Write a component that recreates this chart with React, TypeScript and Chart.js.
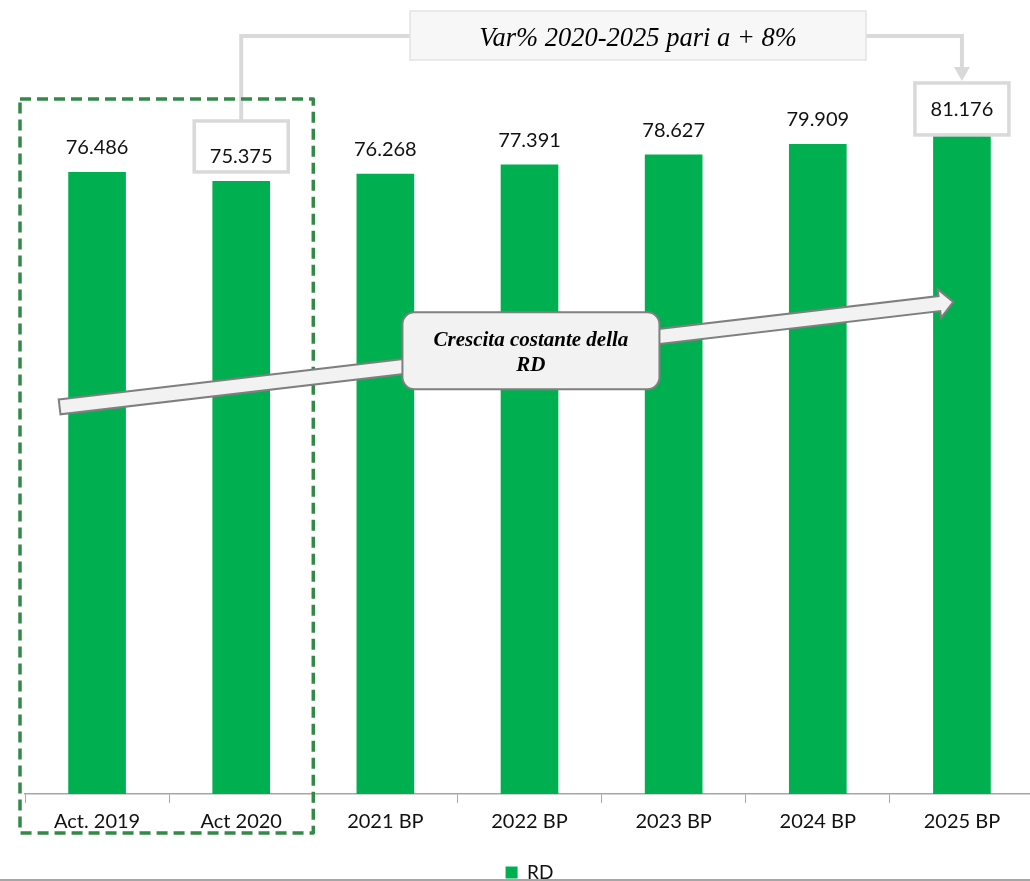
import React, { useEffect, useRef } from "react";
import { Chart, registerables } from "chart.js";

Chart.register(...registerables);

// ---- data ----
const categories = ["Act. 2019", "Act 2020", "2021 BP", "2022 BP", "2023 BP", "2024 BP", "2025 BP"];
const rdValues = [76486, 75375, 76268, 77391, 78627, 79909, 81176];
const seriesName = "RD";
const yAxisMax = 90000;
const topCalloutText = "Var% 2020-2025 pari a + 8%";
const arrowCalloutLines = ["Crescita costante della", "RD"];
// highlighted labels: [category index, box top value, box bottom value]
const highlightA = [1, 82750, 76480];
const highlightB = [6, 87420, 81030];
// trend arrow in scale units: [x index, value]
const trendStart = [-0.26, 47600];
const trendEnd = [5.94, 60500];
const trendCallout = [3.01, 54500];

const CANVAS_W = 1034;
const CANVAS_H = 892;
const LABEL_FONT = "Lato, 'Open Sans', sans-serif";
const SERIF = "'Liberation Serif', 'Times New Roman', serif";

function fmtIt(v: number): string {
  const s = Math.round(v).toString();
  return s.replace(/\B(?=(\d{3})+(?!\d))/g, ".");
}

function roundRect(ctx: CanvasRenderingContext2D, x: number, y: number, w: number, h: number, r: number) {
  ctx.beginPath();
  ctx.moveTo(x + r, y);
  ctx.lineTo(x + w - r, y);
  ctx.arcTo(x + w, y, x + w, y + r, r);
  ctx.lineTo(x + w, y + h - r);
  ctx.arcTo(x + w, y + h, x + w - r, y + h, r);
  ctx.lineTo(x + r, y + h);
  ctx.arcTo(x, y + h, x, y + h - r, r);
  ctx.lineTo(x, y + r);
  ctx.arcTo(x, y, x + r, y, r);
  ctx.closePath();
}

const annotationPlugin = {
  id: "annotations",
  afterDraw(chart: any) {
    const { ctx, chartArea, scales } = chart;
    const xs = scales.x;
    const ys = scales.y;
    const px = (v: number) => xs.getPixelForValue(v);
    const py = (v: number) => ys.getPixelForValue(v);
    const meta = chart.getDatasetMeta(0);
    ctx.save();

    // highlight boxes
    const drawHighlight = (h: number[]) => {
      const cx = px(h[0]);
      const top = py(h[1]);
      const bot = py(h[2]);
      ctx.fillStyle = "#ffffff";
      ctx.fillRect(cx - 47, top, 94, bot - top);
      ctx.strokeStyle = "#d9d9d9";
      ctx.lineWidth = 3.5;
      ctx.strokeRect(cx - 47, top, 94, bot - top);
    };
    drawHighlight(highlightA);
    drawHighlight(highlightB);

    // value labels
    ctx.fillStyle = "#111";
    ctx.font = `20px ${LABEL_FONT}`;
    ctx.textAlign = "center";
    ctx.textBaseline = "alphabetic";
    meta.data.forEach((bar: any, i: number) => {
      ctx.fillText(fmtIt(rdValues[i]), bar.x, bar.y - 18);
    });

    // top callout
    const boxL = 410, boxR = 866, boxT = 11, boxB = 60;
    const midY = (boxT + boxB) / 2 + 0.5;
    ctx.strokeStyle = "#d9d9d9";
    ctx.lineWidth = 4;
    ctx.lineJoin = "miter";
    // left connector
    const ax = px(highlightA[0]);
    ctx.beginPath();
    ctx.moveTo(boxL, midY);
    ctx.lineTo(ax, midY);
    ctx.lineTo(ax, py(highlightA[1]) - 1);
    ctx.stroke();
    // right connector with arrow
    const bx = px(highlightB[0]);
    const tipY = py(highlightB[1]) - 2;
    ctx.beginPath();
    ctx.moveTo(boxR, midY);
    ctx.lineTo(bx, midY);
    ctx.lineTo(bx, tipY - 12);
    ctx.stroke();
    ctx.fillStyle = "#d9d9d9";
    ctx.beginPath();
    ctx.moveTo(bx - 8, tipY - 14);
    ctx.lineTo(bx + 8, tipY - 14);
    ctx.lineTo(bx, tipY);
    ctx.closePath();
    ctx.fill();

    ctx.fillStyle = "#f7f7f7";
    ctx.fillRect(boxL, boxT, boxR - boxL, boxB - boxT);
    ctx.strokeStyle = "#e3e3e3";
    ctx.lineWidth = 1.5;
    ctx.strokeRect(boxL, boxT, boxR - boxL, boxB - boxT);
    ctx.fillStyle = "#000";
    ctx.font = `italic 26.5px ${SERIF}`;
    ctx.textAlign = "center";
    ctx.fillText(topCalloutText, (boxL + boxR) / 2, 45.5);

    // dashed rectangle around actuals
    const dl = chartArea.left - 5;
    const dr = px(1.5);
    const dt = py(85450);
    const db = chartArea.bottom + 39;
    ctx.strokeStyle = "#338a47";
    ctx.lineWidth = 3.5;
    ctx.setLineDash([11, 6]);
    ctx.lineJoin = "round";
    ctx.strokeRect(dl, dt, dr - dl, db - dt);
    ctx.setLineDash([]);

    // trend arrow
    const sx = px(trendStart[0]), sy = py(trendStart[1]);
    const ex = px(trendEnd[0]), ey = py(trendEnd[1]);
    const ang = Math.atan2(ey - sy, ex - sx);
    const len = Math.hypot(ex - sx, ey - sy);
    const shaft = 7.5, head = 14.5, headLen = 14;
    ctx.translate(sx, sy);
    ctx.rotate(ang);
    ctx.beginPath();
    ctx.moveTo(0, -shaft);
    ctx.lineTo(len - headLen, -shaft);
    ctx.lineTo(len - headLen, -head);
    ctx.lineTo(len, 0);
    ctx.lineTo(len - headLen, head);
    ctx.lineTo(len - headLen, shaft);
    ctx.lineTo(0, shaft);
    ctx.closePath();
    ctx.fillStyle = "#f2f2f2";
    ctx.fill();
    ctx.strokeStyle = "#7f7f7f";
    ctx.lineWidth = 2;
    ctx.lineJoin = "miter";
    ctx.stroke();
    ctx.setTransform(1, 0, 0, 1, 0, 0);

    // trend callout
    const ccx = px(trendCallout[0]);
    const ccy = py(trendCallout[1]);
    const cw = 257, ch = 77;
    roundRect(ctx, ccx - cw / 2, ccy - ch / 2, cw, ch, 12);
    ctx.fillStyle = "#f2f2f2";
    ctx.fill();
    ctx.strokeStyle = "#7f7f7f";
    ctx.lineWidth = 2;
    ctx.stroke();
    ctx.fillStyle = "#000";
    ctx.font = `italic bold 21px ${SERIF}`;
    ctx.textAlign = "center";
    ctx.textBaseline = "alphabetic";
    ctx.fillText(arrowCalloutLines[0], ccx, ccy - 5);
    ctx.fillText(arrowCalloutLines[1], ccx, ccy + 20.5);

    // bottom frame line
    ctx.strokeStyle = "#a6a6a6";
    ctx.lineWidth = 2;
    ctx.beginPath();
    ctx.moveTo(0, 880);
    ctx.lineTo(chart.width, 880);
    ctx.stroke();

    ctx.restore();
  },
};

export default function App() {
  const ref = useRef<HTMLCanvasElement | null>(null);
  useEffect(() => {
    if (!ref.current) return;
    const chart = new Chart(ref.current, {
      type: "bar",
      data: {
        labels: categories,
        datasets: [
          {
            label: seriesName,
            data: rdValues,
            backgroundColor: "#00b050",
            borderWidth: 0,
            categoryPercentage: 1,
            barPercentage: 0.4,
          },
        ],
      },
      options: {
        animation: false,
        responsive: false,
        maintainAspectRatio: false,
        devicePixelRatio: 1,
        layout: { padding: { top: 62, left: 25, right: 0, bottom: 0 } },
        scales: {
          x: {
            grid: {
              display: true,
              drawOnChartArea: false,
              drawTicks: true,
              tickLength: 9,
              color: "#a6a6a6",
              lineWidth: 1,
              offset: true,
            },
            border: { display: true, color: "#a6a6a6", width: 1.5 },
            ticks: {
              color: "#111",
              font: { family: LABEL_FONT, size: 20 },
              padding: 7,
              maxRotation: 0,
              autoSkip: false,
            },
            afterFit: (s: any) => {
              s.height = 59;
            },
          },
          y: { display: false, min: 0, max: yAxisMax },
        },
        plugins: {
          legend: {
            position: "bottom",
            labels: {
              boxWidth: 12,
              boxHeight: 12,
              color: "#111",
              font: { family: LABEL_FONT, size: 19 },
              padding: 10,
            },
          },
          tooltip: { enabled: false },
        },
      },
      plugins: [annotationPlugin],
    });
    return () => chart.destroy();
  }, []);
  return (
    <div style={{ position: "fixed", left: 0, top: 0, width: 1030, height: 881, overflow: "hidden", background: "#fff" }}>
      <canvas ref={ref} width={CANVAS_W} height={CANVAS_H} style={{ width: CANVAS_W, height: CANVAS_H, display: "block" }} />
    </div>
  );
}
